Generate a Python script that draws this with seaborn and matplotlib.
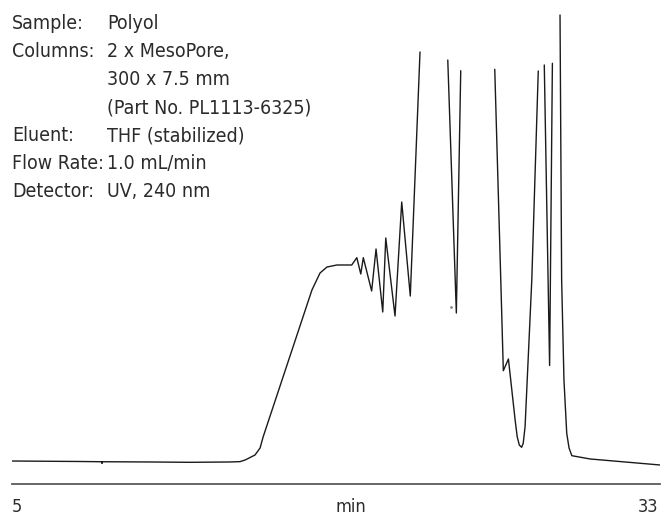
"""
Polyol GPC chromatogram on 2 x MesoPore columns (UV detector trace).
"""

import numpy as np
import pandas as pd
import matplotlib
matplotlib.use("Agg")
import matplotlib.pyplot as plt
import seaborn as sns

# retention time (min) and detector response (arbitrary units)
# the trace is broken where it runs off the top of the plot, so it is kept in segments
seg1_time = [5.00, 7.94, 8.87, 8.89, 8.91, 10.96, 12.69, 14.42, 14.85, 15.07, 15.50,
             15.72, 15.85, 17.96, 18.31, 18.61, 19.04, 19.68, 19.90, 20.07, 20.18,
             20.54, 20.73, 21.02, 21.15, 21.55, 21.84, 22.21, 22.63]
seg1_resp = [4.75, 4.65, 4.60, 4.25, 4.60, 4.55, 4.48, 4.55, 4.62, 4.95, 5.99,
             7.44, 9.71, 40.08, 43.60, 44.83, 45.25, 45.25, 46.76, 43.39, 46.76,
             39.88, 48.55, 35.54, 50.83, 34.71, 58.26, 38.84, 89.26]

seg2_time = [23.83, 24.20, 24.39]
seg2_resp = [87.60, 35.33, 85.39]

seg3_time = [25.86, 26.12, 26.23, 26.45, 26.74, 26.83, 26.92, 27.02, 27.09, 27.17,
             27.46, 27.74]
seg3_resp = [85.68, 42.15, 23.41, 25.83, 13.22, 9.77, 8.06, 7.58, 8.41, 11.84,
             42.15, 85.33]

seg4_time = [28.00, 28.23, 28.35]
seg4_resp = [86.57, 24.48, 86.92]

seg5_time = [28.68, 28.75, 28.85, 28.97, 29.07, 29.19, 29.98, 33.00]
seg5_resp = [96.90, 42.15, 21.49, 10.48, 7.44, 5.85, 5.17, 3.93]

stray_time = [23.96]
stray_resp = [36.63]

conditions = [
    ("Sample:", "Polyol"),
    ("Columns:", "2 x MesoPore,"),
    ("", "300 x 7.5 mm"),
    ("", "(Part No. PL1113-6325)"),
    ("Eluent:", "THF (stabilized)"),
    ("Flow Rate:", "1.0 mL/min"),
    ("Detector:", "UV, 240 nm"),
]

x_min, x_max = 5, 33
x_label = "min"

segments = [(seg1_time, seg1_resp), (seg2_time, seg2_resp), (seg3_time, seg3_resp),
            (seg4_time, seg4_resp), (seg5_time, seg5_resp)]
frames = []
for i, (t, r) in enumerate(segments):
    frames.append(pd.DataFrame({"time": t, "response": r, "seg": i}))
trace = pd.concat(frames, ignore_index=True)

sns.set_theme(style="white")
plt.rcParams["font.family"] = ["DejaVu Sans"]
plt.rcParams["font.stretch"] = "condensed"
TEXT = "#2b2b2b"

W, H = 662, 517
fig = plt.figure(figsize=(W / 100, H / 100), dpi=100)
ax = fig.add_axes([12 / W, 33 / H, 648 / W, 484 / H])

sns.lineplot(data=trace, x="time", y="response", units="seg", estimator=None,
             sort=False, color="#1a1a1a", linewidth=1.0, ax=ax)
ax.plot(stray_time, stray_resp, ls="none", marker="o", ms=1.0, color="#888888")

ax.set_xlim(x_min, x_max)
ax.set_ylim(0, 100)
ax.set_xticks([])
ax.set_yticks([])
ax.set_xlabel("")
ax.set_ylabel("")
for side in ["top", "left", "right"]:
    ax.spines[side].set_visible(False)
ax.spines["bottom"].set_color("#5a5a5a")
ax.spines["bottom"].set_linewidth(1.3)

# axis annotations under the baseline
lab = dict(fontsize=13, color=TEXT, va="baseline", stretch="condensed")
fig.text(12 / W, 1 - 512 / H, str(x_min), ha="left", **lab)
fig.text(658 / W, 1 - 512 / H, str(x_max), ha="right", **lab)
fig.text(351 / W, 1 - 512 / H, x_label, ha="center", **lab)

# run conditions block, top left
for i, (key, val) in enumerate(conditions):
    y = 1 - (29.3 + 28 * i) / H
    if key:
        fig.text(12 / W, y, key, fontsize=14, color=TEXT, ha="left", va="baseline",
                 stretch="condensed")
    fig.text(107 / W, y, val, fontsize=14, color=TEXT, ha="left", va="baseline",
             stretch="condensed")

fig.savefig("out.png", dpi=100)
